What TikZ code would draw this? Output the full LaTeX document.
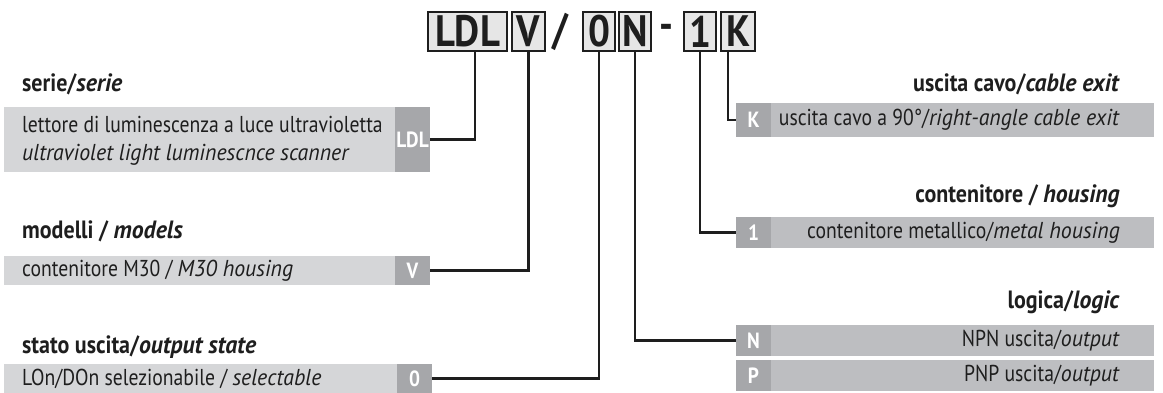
\documentclass[tikz,border=0pt]{standalone}
\usepackage{fontspec}
\setmainfont{PT Sans}[UprightFeatures={FakeStretch=0.855},BoldFeatures={FakeStretch=0.88},ItalicFeatures={FakeStretch=0.95},BoldItalicFeatures={FakeStretch=0.95}]
\definecolor{hdrfill}{HTML}{E6E6E6}
\definecolor{lightL}{HTML}{D5D6D8}
\definecolor{lightR}{HTML}{BDBEC1}
\definecolor{labgray}{HTML}{A6A7AA}
\definecolor{ink}{HTML}{1E1E1E}
\begin{document}
\begin{tikzpicture}[x=1pt,y=-1pt,
  hbox/.style={draw=ink,line width=2pt,fill=hdrfill,inner sep=0pt,outer sep=0pt,anchor=north west,minimum height=39pt,font=\fontsize{44}{44}\selectfont\bfseries,text=ink},
  hsep/.style={inner sep=0pt,font=\fontsize{44}{44}\selectfont\bfseries,text=ink},
  bandL/.style={fill=lightL,draw=none,inner sep=0pt,outer sep=0pt,anchor=north west},
  bandR/.style={fill=lightR,draw=none,inner sep=0pt,outer sep=0pt,anchor=north west},
  lab/.style={fill=labgray,draw=none,inner sep=0pt,outer sep=0pt,anchor=north west,minimum width=35pt,text=white,font=\fontsize{22}{22}\selectfont\bfseries},
  ttl/.style={inner sep=0pt,font=\fontsize{25}{25}\selectfont\bfseries,text=ink},
  body/.style={inner sep=0pt,font=\fontsize{23}{23}\selectfont,text=ink},
  conn/.style={draw=ink,line width=2.5pt}]
\useasboundingbox (0,0) rectangle (1163,393);
% header code
\node[hbox,minimum width=79pt] (hLDL) at (428,12) {LDL};
\node[hbox,minimum width=33pt] (hV) at (512,12) {V};
\node[hsep] (hSl) at (560,31.5) {/};
\node[hbox,minimum width=32pt] (hO) at (583,12) {0};
\node[hbox,minimum width=32pt] (hN) at (619,12) {N};
\node[hsep] (hDa) at (666,31.5) {-};
\node[hbox,minimum width=32pt] (h1) at (684,12) {1};
\node[hbox,minimum width=34pt] (hK) at (721,12) {K};
% left: serie
\node[ttl,anchor=base west] (tSerie) at (22,92) {serie/\textit{serie}};
\node[bandL,minimum width=391pt,minimum height=65pt] (bSerie) at (4,107) {};
\node[lab,minimum height=65pt] (lLDL) at (395,107) {LDL};
\node[body,anchor=west] (sSerie1) at (22,124) {lettore di luminescenza a luce ultravioletta};
\node[body,anchor=west] (sSerie2) at (22,155) {\itshape ultraviolet light luminescnce scanner};
% left: modelli
\node[ttl,anchor=base west] (tMod) at (22,239) {modelli / \textit{models}};
\node[bandL,minimum width=391pt,minimum height=29pt] (bMod) at (4,256) {};
\node[lab,minimum height=29pt] (lV) at (395,256) {V};
\node[body,anchor=west] (sMod) at (22,270.5) {contenitore M30 / \textit{M30 housing}};
% left: stato
\node[ttl,anchor=base west] (tSta) at (22,353) {stato uscita/\textit{output state}};
\node[bandL,minimum width=393pt,minimum height=29pt] (bSta) at (4,364) {};
\node[lab,minimum height=29pt] (lO) at (397,364) {0};
\node[body,anchor=west] (sSta) at (22,378.5) {LOn/DOn selezionabile / \textit{selectable}};
% right: uscita cavo
\node[ttl,anchor=base east] (tK) at (1120,92) {uscita cavo/\textit{cable exit}};
\node[bandR,minimum width=418pt,minimum height=34pt] (bK) at (736,103) {};
\node[lab,minimum height=34pt] (lK) at (736,103) {K};
\node[body,anchor=east] (sK) at (1120,120) {uscita cavo a 90°/\textit{right-angle cable exit}};
% right: contenitore
\node[ttl,anchor=base east] (t1) at (1120,203) {contenitore / \textit{housing}};
\node[bandR,minimum width=418pt,minimum height=31pt] (b1) at (736,217) {};
\node[lab,minimum height=31pt] (l1) at (736,217) {1};
\node[body,anchor=east] (s1) at (1120,232.5) {contenitore metallico/\textit{metal housing}};
% right: logica
\node[ttl,anchor=base east] (tLog) at (1120,308) {logica/\textit{logic}};
\node[bandR,minimum width=418pt,minimum height=31pt] (bN) at (736,325) {};
\node[lab,minimum height=31pt] (lN) at (736,325) {N};
\node[body,anchor=east] (sN) at (1120,340.5) {NPN uscita/\textit{output}};
\node[bandR,minimum width=418pt,minimum height=31pt] (bP) at (736,360) {};
\node[lab,minimum height=31pt] (lP) at (736,360) {P};
\node[body,anchor=east] (sP) at (1120,375.5) {PNP uscita/\textit{output}};
% connector columns
\coordinate (xLDL) at (475,0);
\coordinate (xK) at (728,0);
\draw[conn] (xLDL |- hLDL.south) -- (xLDL |- lLDL.east) -- (lLDL.east);
\draw[conn] (hV.south) -- (hV.south |- lV.east) -- (lV.east);
\draw[conn] (hO.south) -- (hO.south |- lO.east) -- (lO.east);
\draw[conn] (hN.south) -- (hN.south |- lN.west) -- (lN.west);
\draw[conn] (h1.south) -- (h1.south |- l1.west) -- (l1.west);
\draw[conn] (xK |- hK.south) -- (xK |- lK.west) -- (lK.west);
\end{tikzpicture}
\end{document}
